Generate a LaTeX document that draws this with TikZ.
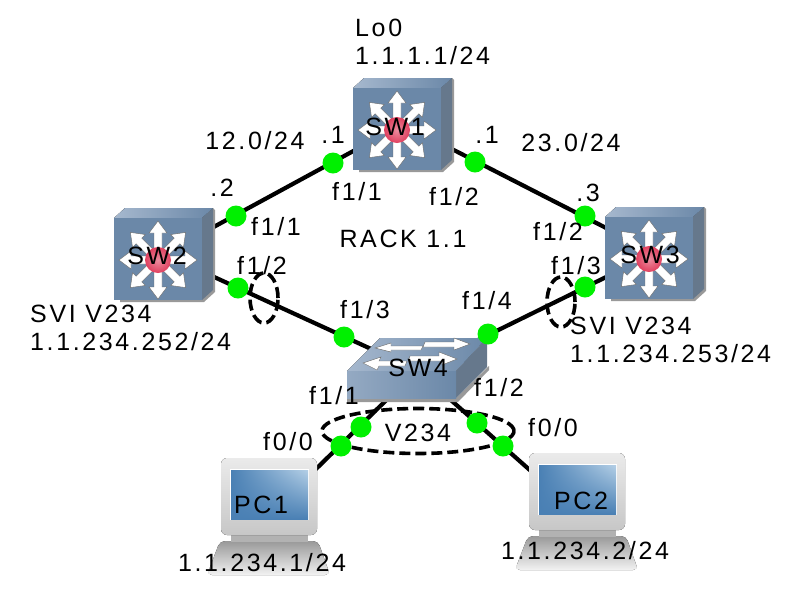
\documentclass[tikz,border=0pt]{standalone}
\usepackage{fontspec}
\setmainfont[LetterSpace=10.5]{Liberation Sans}
\usetikzlibrary{positioning, shapes.geometric, backgrounds, shadings}
\definecolor{faceBlue}{HTML}{6B88A8}
\definecolor{faceLight}{HTML}{A6B8CE}
\definecolor{faceSide}{HTML}{66788C}
\definecolor{portGreen}{HTML}{00F000}
\definecolor{ballRed}{HTML}{E0405F}
\definecolor{screenBlue}{HTML}{4A80B4}
\definecolor{screenLight}{HTML}{B4CFE6}
\tikzset{
  link/.style={draw=black, line width=4.2pt},
  port/.style={circle, fill=portGreen, minimum size=21pt, inner sep=0pt},
  lbl/.style={font=\fontsize{25}{28}\selectfont, inner sep=0pt, align=left, text=black},
  devbox/.style={rectangle, inner sep=0pt, minimum width=100pt, minimum height=92pt},
  vlan/.style={ellipse, draw=black, line width=3.6pt, dash pattern=on 11pt off 5pt, inner sep=0pt},
  arrowicon/.style={fill=white, draw=black!60, line width=.4pt},
  pics/mlsicon/.style={code={
    \fill[black!40] (-37,-37) -- (49,-46) -- (51,-44) -- (51,38) -- (40,48) -- (-44,48) -- cycle;
    \fill[left color=faceLight, right color=faceBlue] (-50,-36) -- (-39,-46) -- (49,-46) -- (38,-36) -- cycle;
    \fill[faceSide] (38,-36) -- (49,-46) -- (49,36) -- (38,46) -- cycle;
    \fill[faceBlue] (-50,-36) rectangle (38,46);
    \foreach \ang in {0,45,...,315} {
      \draw[arrowicon, shift={(-6,6)}, rotate=\ang]
        (0,-4) -- (27,-4) -- (27,-9) -- (39,0) -- (27,9) -- (27,4) -- (0,4) -- cycle;
    }
    \shade[inner color=ballRed!60, outer color=ballRed] (-6,6) circle (13);
  }},
  pics/swicon/.style={code={
    \fill[black!40] (-70,28) -- (-70,32) -- (41,32) -- (72,0) -- (72,-4) -- (39,28) -- cycle;
    \fill[left color=faceLight, right color=faceBlue] (-70,1) -- (-37,-32) -- (70,-32) -- (39,1) -- cycle;
    \fill[faceSide] (39,1) -- (70,-32) -- (70,-3) -- (39,28) -- cycle;
    \fill[left color=faceLight!70!faceBlue, right color=faceBlue] (-70,1) rectangle (39,28);
    \draw[arrowicon] (6,-24) -- (-26,-24) -- (-26,-27) -- (-42,-22) -- (-26,-18) -- (-26,-20) -- (4,-20) -- cycle;
    \draw[arrowicon] (8,-28) -- (37,-28) -- (37,-32) -- (53,-26) -- (37,-20) -- (37,-23) -- (6,-23) -- cycle;
    \draw[arrowicon] (-10,-9) -- (-38,-9) -- (-36,-13) -- (-54,-7) -- (-40,0) -- (-38,-4) -- (-12,-4) -- cycle;
    \draw[arrowicon] (-7,-14) -- (22,-14) -- (22,-18) -- (40,-11) -- (25,-5) -- (25,-9) -- (-9,-9) -- cycle;
  }},
  pics/pcicon/.style={code={
    \fill[top color=black!40, bottom color=black!5, rounded corners=5pt]
      (-48,25) -- (50,25) -- (62,59) -- (-61,59) -- cycle;
    \fill[black!30] (-37,19) rectangle (40,26);
    \fill[top color=black!8, bottom color=black!22, rounded corners=6pt] (-47,-58) rectangle (49,19);
    \fill[white] (-38,-47) rectangle (41,4);
    \shade[lower left=screenBlue, lower right=screenBlue, upper left=screenBlue, upper right=screenLight] (-37,-46) rectangle (40,3);
  }},
}
\begin{document}
\begin{tikzpicture}[x=1pt, y=-1pt]
  \useasboundingbox (0,0) rectangle (803,598);

  \node[devbox] (sw1) at (403,124) {};
  \node[devbox] (sw2) at (164,254) {};
  \node[devbox] (sw3) at (655,253) {};
  \node[devbox, minimum width=140pt, minimum height=64pt] (sw4) at (417,370) {};
  \node[devbox, minimum width=123pt, minimum height=117pt] (pc1) at (268,516) {};
  \node[devbox, minimum width=123pt, minimum height=117pt] (pc2) at (576,511) {};

  \begin{scope}[on background layer]
    \draw[link] (sw1.center) -- (sw2.center);
    \draw[link] (sw1.center) -- (sw3.center);
    \draw[link] (sw2.center) -- (sw4.center);
    \draw[link] (sw3.center) -- (sw4.center);
    \draw[link] (sw4.center) -- (pc1.center);
    \draw[link] (sw4.center) -- (pc2.center);
  \end{scope}

  \pic at (sw1.center) {mlsicon};
  \pic at (sw2.center) {mlsicon};
  \pic at (sw3.center) {mlsicon};
  \pic at (sw4.center) {swicon};
  \pic at (pc1.center) {pcicon};
  \pic at (pc2.center) {pcicon};

  \node[vlan, minimum width=28pt, minimum height=50pt] (ringL) at (264,298) {};
  \node[vlan, minimum width=28pt, minimum height=50pt] (ringR) at (561,302) {};
  \node[vlan, minimum width=192pt, minimum height=45pt] (ringV) at (418,431) {};

  \node[port] (p1) at (333,163) {};
  \node[port] (p2) at (475,162) {};
  \node[port] (p3) at (236,216) {};
  \node[port] (p4) at (585,216) {};
  \node[port] (p5) at (238,288) {};
  \node[port] (p6) at (585,287) {};
  \node[port] (p7) at (344,337) {};
  \node[port] (p8) at (488,334) {};
  \node[port] (p9) at (361,427) {};
  \node[port] (p10) at (341,446) {};
  \node[port] (p11) at (477,423) {};
  \node[port] (p12) at (503,446) {};

  \node[lbl] (nameSw1) at (395,127) {SW1};
  \node[lbl] (nameSw2) at (157,256) {SW2};
  \node[lbl] (nameSw3) at (650,255) {SW3};
  \node[lbl] (nameSw4) at (418,368) {SW4};
  \node[lbl] (namePc1) at (261,505) {PC1};
  \node[lbl] (namePc2) at (581,501) {PC2};

  \node[lbl, anchor=west] (loop) at (355,42) {Lo0\\1.1.1.1/24};
  \node[lbl] (net12) at (255,141) {12.0/24};
  \node[lbl] (net23) at (571,143) {23.0/24};
  \node[lbl] (rack) at (403,239) {RACK 1.1};
  \node[lbl] (addr1) at (333,135) {.1};
  \node[lbl] (addr1b) at (487,135) {.1};
  \node[lbl] (addr2) at (222,188) {.2};
  \node[lbl] (addr3) at (588,193) {.3};

  \node[lbl] (if11) at (357,192) {f1/1};
  \node[lbl] (if12) at (454,197) {f1/2};
  \node[lbl] (if21) at (276,227) {f1/1};
  \node[lbl] (if22) at (262,266) {f1/2};
  \node[lbl] (if32) at (558,232) {f1/2};
  \node[lbl] (if33) at (576,266) {f1/3};
  \node[lbl] (if43) at (365,310) {f1/3};
  \node[lbl] (if44) at (487,301) {f1/4};
  \node[lbl] (if41) at (334,396) {f1/1};
  \node[lbl] (if42) at (499,388) {f1/2};
  \node[lbl] (ifpc1) at (288,442) {f0/0};
  \node[lbl] (ifpc2) at (553,428) {f0/0};

  \node[lbl] (vlanName) at (418,433) {V234};
  \node[lbl, anchor=west] (sviL) at (30,328) {SVI V234\\1.1.234.252/24};
  \node[lbl, anchor=west] (sviR) at (570,340) {SVI V234\\1.1.234.253/24};
  \node[lbl] (ipPc1) at (262,563) {1.1.234.1/24};
  \node[lbl] (ipPc2) at (585,551) {1.1.234.2/24};
\end{tikzpicture}
\end{document}
